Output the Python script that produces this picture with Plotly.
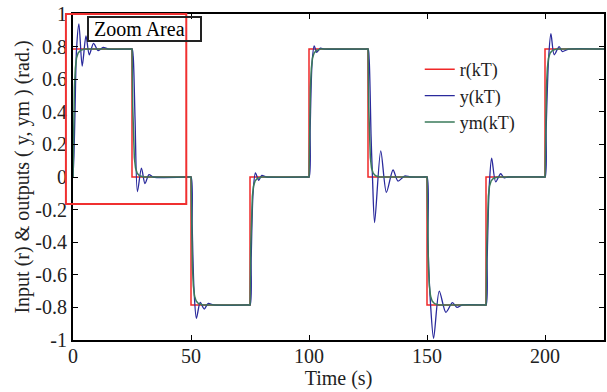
import plotly.graph_objects as go

# Reference input r(kT): switching times (s) and the level held after each switch (rad)
STEP_TIMES = [0, 25, 50, 75, 100, 125, 150, 175, 200]
STEP_LEVELS = [0.785, 0.0, -0.785, 0.0, 0.785, 0.0, -0.785, 0.0, 0.785]
T_END = 225

# Plant output y(kT): transient around each switch (time s, value rad)
Y_T = [
    [0, 0.4, 0.85, 1.5, 2.5, 3.9, 5.5, 6.9, 8.7, 10.7, 12.8, 15.0],
    [24, 25, 25.5, 26.3, 27.3, 29.0, 30.5, 32.2, 34.0],
    [49, 50, 50.5, 51.3, 52.3, 53.9, 55.6, 57.3, 59.5],
    [74, 75, 75.5, 76.3, 77.3, 78.7, 80.0, 82.0],
    [99, 100, 100.5, 101.3, 102.2, 103.3, 104.8, 106.5],
    [124, 125, 125.5, 126.3, 126.9, 127.8, 130.4, 132.8, 135.6, 137.7, 140.5, 143.0],
    [149, 150, 150.4, 151.5, 152.8, 155.2, 158.0, 160.8, 162.7, 165.0],
    [174, 175, 175.5, 176.4, 177.4, 179.1, 181.2, 182.7, 184.5],
    [199, 200, 200.5, 201.5, 202.5, 203.9, 206.0, 207.3, 210.0, 225.0],
]
Y_V = [
    [0.0, 0.13, 0.4, 0.785, 0.94, 0.68, 0.865, 0.75, 0.82, 0.775, 0.795, 0.785],
    [0.785, 0.785, 0.74, 0.35, -0.09, 0.055, -0.04, 0.015, 0.0],
    [0.0, 0.0, -0.3, -0.7, -0.867, -0.77, -0.81, -0.775, -0.785],
    [-0.785, -0.785, -0.5, -0.1, 0.025, -0.02, 0.01, 0.0],
    [0.0, 0.0, 0.3, 0.7, 0.805, 0.765, 0.79, 0.785],
    [0.785, 0.785, 0.72, 0.25, 0.0, -0.28, 0.16, -0.094, 0.043, -0.025, 0.006, 0.0],
    [0.0, 0.0, -0.4, -0.78, -0.99, -0.70, -0.83, -0.771, -0.80, -0.785],
    [-0.785, -0.785, -0.5, -0.05, 0.115, -0.03, 0.02, -0.005, 0.0],
    [0.0, 0.0, 0.3, 0.72, 0.88, 0.75, 0.80, 0.77, 0.785, 0.785],
]

# Reference-model output ym(kT): fraction of each switch completed vs. time after it
YM_DT = [0, 0.3, 0.6, 1.0, 1.5, 2.2, 3.2, 5.0]
YM_FRAC = [0, 0.45, 0.7, 0.85, 0.93, 0.97, 0.99, 1.0]

X_TICKS = [0, 50, 100, 150, 200]
Y_TICKS = [-1, -0.8, -0.6, -0.4, -0.2, 0, 0.2, 0.4, 0.6, 0.8, 1]
Y_TICK_TEXT = ["-1", "-0.8", "-0.6", "-0.4", "-0.2", "0", "0.2", "0.4", "0.6", "0.8", "1"]

# Region marked as the zoom area (time s, rad)
ZOOM_T = [-3, 48]
ZOOM_V = [-0.165, 1.0]

FONT = "Liberation Serif, Times New Roman, serif"
X_RANGE = [0, T_END]
Y_RANGE = [-1, 1]

# r(kT) as a staircase
r_t = STEP_TIMES + [T_END]
r_v = STEP_LEVELS + [STEP_LEVELS[-1]]

# y(kT) joined from its transients
y_t, y_v = [], []
for ts, vs in zip(Y_T, Y_V):
    y_t += ts
    y_v += vs

# ym(kT) built from the switch times and levels
ym_t, ym_v = [], []
prev = 0.0
for t0, lvl in zip(STEP_TIMES, STEP_LEVELS):
    for dt, f in zip(YM_DT, YM_FRAC):
        ym_t.append(t0 + dt)
        ym_v.append(prev + f * (lvl - prev))
    prev = lvl
ym_t.append(T_END)
ym_v.append(prev)

fig = go.Figure()
fig.add_trace(go.Scatter(x=r_t, y=r_v, mode="lines", name="r(kT)",
                         line=dict(color="#f02828", width=1.5, shape="hv")))
fig.add_trace(go.Scatter(x=y_t, y=y_v, mode="lines", name="y(kT)",
                         line=dict(color="#2a2a9c", width=1.3, shape="spline", smoothing=0.8)))
fig.add_trace(go.Scatter(x=ym_t, y=ym_v, mode="lines", name="ym(kT)",
                         line=dict(color="#3a7a5a", width=1.5)))


def to_paper_x(t):
    return (t - X_RANGE[0]) / (X_RANGE[1] - X_RANGE[0])


def to_paper_y(v):
    return (v - Y_RANGE[0]) / (Y_RANGE[1] - Y_RANGE[0])


fig.add_shape(type="rect", xref="paper", yref="paper",
              x0=to_paper_x(ZOOM_T[0]), x1=to_paper_x(ZOOM_T[1]),
              y0=to_paper_y(ZOOM_V[0]), y1=to_paper_y(ZOOM_V[1]),
              line=dict(color="#f03030", width=2), layer="above")

fig.add_annotation(x=5.9, y=0.985, xref="x", yref="y", xanchor="left", yanchor="top",
                   text="\u00a0Zoom Area", showarrow=False, align="left", width=111,
                   font=dict(family=FONT, size=20, color="black"),
                   bordercolor="#222222", borderwidth=2, borderpad=0,
                   bgcolor="rgba(0,0,0,0)")

axis_common = dict(showline=True, linecolor="black", linewidth=2, mirror="ticks",
                   ticks="inside", ticklen=5, tickcolor="black", tickwidth=1,
                   showgrid=False, zeroline=False,
                   tickfont=dict(family=FONT, size=20, color="#222222"))

fig.update_layout(
    width=607, height=392,
    margin=dict(l=73, r=1, t=14, b=52),
    paper_bgcolor="white", plot_bgcolor="white",
    font=dict(family=FONT, color="#222222"),
    xaxis=dict(range=X_RANGE, tickvals=X_TICKS, ticklabelstandoff=-3,
               title=dict(text="Time (s)", font=dict(family=FONT, size=20), standoff=0),
               **axis_common),
    yaxis=dict(range=Y_RANGE, tickvals=Y_TICKS, ticktext=Y_TICK_TEXT,
               title=dict(text="Input (r) & outputs ( y, ym ) (rad.)",
                          font=dict(family=FONT, size=20), standoff=0),
               **axis_common),
    legend=dict(x=0.653, y=0.8865, xanchor="left", yanchor="top",
                bgcolor="rgba(0,0,0,0)", borderwidth=0,
                font=dict(family=FONT, size=18, color="#222222")),
    showlegend=True,
)

fig.write_html("out.html")
